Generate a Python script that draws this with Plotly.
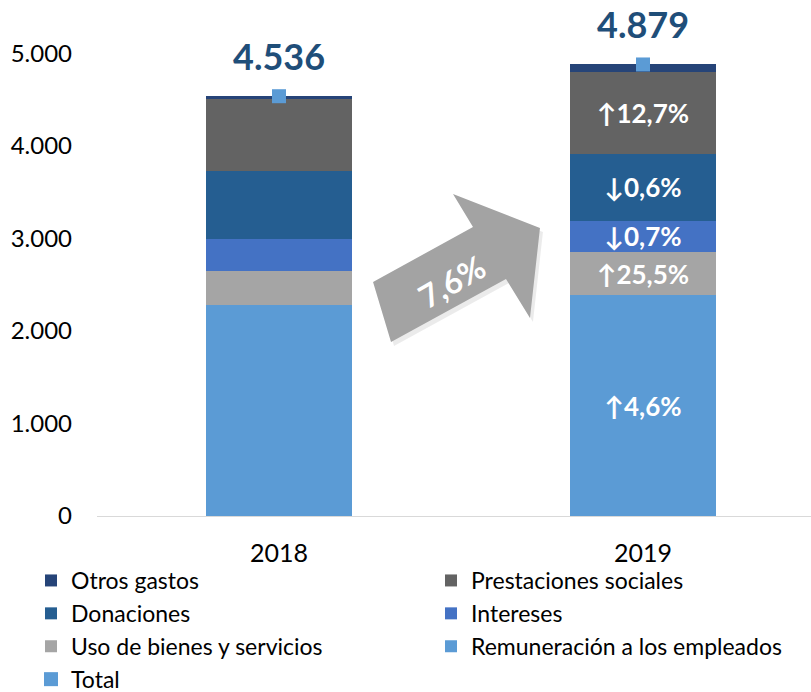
import plotly.graph_objects as go

years = ["2018", "2019"]
remuneracion = [2281, 2386]
uso_bienes = [371, 466]
intereses = [342, 340]
donaciones = [729, 725]
prestaciones = [782, 881]
otros = [31, 81]
totals = [4536, 4879]
total_labels = ["4.536", "4.879"]

lbl_rem = ["", "↑4,6%"]
lbl_uso = ["", "↑25,5%"]
lbl_int = ["", "↓0,7%"]
lbl_don = ["", "↓0,6%"]
lbl_pre = ["", "↑12,7%"]
lbl_otr = ["", ""]
growth_label = "7,6%"

FONT = "Lato"

series = [
    ("Remuneración a los empleados", remuneracion, lbl_rem, "#5B9BD5", 6),
    ("Uso de bienes y servicios", uso_bienes, lbl_uso, "#A5A5A5", 5),
    ("Intereses", intereses, lbl_int, "#4472C4", 4),
    ("Donaciones", donaciones, lbl_don, "#255E91", 3),
    ("Prestaciones sociales", prestaciones, lbl_pre, "#636363", 2),
    ("Otros gastos", otros, lbl_otr, "#264478", 1),
]

fig = go.Figure()
for name, vals, lbls, color, rank in series:
    fig.add_trace(go.Bar(
        x=years, y=vals, name=name, marker=dict(color=color, line=dict(width=0)),
        text=lbls, textposition="inside", insidetextanchor="middle",
        textangle=0, constraintext="none",
        textfont=dict(color="white", size=26, family=FONT, weight="bold"),
        width=0.4, legendrank=rank,
    ))

fig.add_trace(go.Scatter(
    x=years, y=totals, name="Total", mode="markers",
    marker=dict(symbol="square", size=14, color="#5B9BD5"),
    legendrank=7,
))

for i, (tot, lab) in enumerate(zip(totals, total_labels)):
    fig.add_annotation(x=i, y=tot, xref="x", yref="y", text=lab, showarrow=False, yshift=40,
                       font=dict(size=36, color="#1F4E79", family=FONT, weight="bold"))

# Decorative growth arrow (pixel -> paper conversion)
L, R, T, B = 97, 811, 7, 516
def px(x):
    return (x - L) / (R - L)
def py(y):
    return (B - y) / (B - T)

arrow_pts = [(373, 282), (473, 227), (453, 194), (540, 228), (530, 318), (506, 279), (391, 342)]
def path(pts, dx=0, dy=0):
    return "M " + " L ".join(f"{px(x+dx):.4f},{py(y+dy):.4f}" for x, y in pts) + " Z"

fig.add_shape(type="path", xref="paper", yref="paper", path=path(arrow_pts, 3, 4),
              fillcolor="rgba(0,0,0,0.08)", line=dict(width=0), layer="above")
fig.add_shape(type="path", xref="paper", yref="paper", path=path(arrow_pts),
              fillcolor="#A3A3A3", line=dict(width=0), layer="above")
fig.add_annotation(xref="paper", yref="paper", x=px(451), y=py(281), text=growth_label,
                   showarrow=False, textangle=-30,
                   font=dict(size=32, color="white", family=FONT, weight="bold"))

fig.update_layout(
    width=811, height=692,
    margin=dict(l=L, r=811 - R, t=T, b=692 - B, autoexpand=False),
    paper_bgcolor="white", plot_bgcolor="white",
    barmode="stack", bargap=0.6,
    separators=",.",
    font=dict(family=FONT, size=20, color="#000000"),
    showlegend=True,
    legend=dict(orientation="h", x=-0.0924, xanchor="left", y=py(701), yanchor="bottom",
                entrywidth=355, entrywidthmode="pixels",
                font=dict(size=23, family=FONT, color="#000000"),
                traceorder="normal", itemclick=False, bgcolor="rgba(0,0,0,0)"),
    xaxis=dict(type="category", range=[-0.5, 1.4615], showline=True, linecolor="#D9D9D9",
               linewidth=1, ticks="", showgrid=False, ticklabelstandoff=15,
               tickfont=dict(size=25, family=FONT, color="#000000")),
    yaxis=dict(range=[0, 5500], tickvals=[0, 1000, 2000, 3000, 4000, 5000],
               tickformat=",d", showgrid=False, zeroline=False, showline=False,
               ticks="", ticklabelstandoff=24,
               tickfont=dict(size=24, family=FONT, color="#000000")),
)

fig.write_html("out.html", config={"displayModeBar": False},
               post_script="document.body.style.margin='0';")
